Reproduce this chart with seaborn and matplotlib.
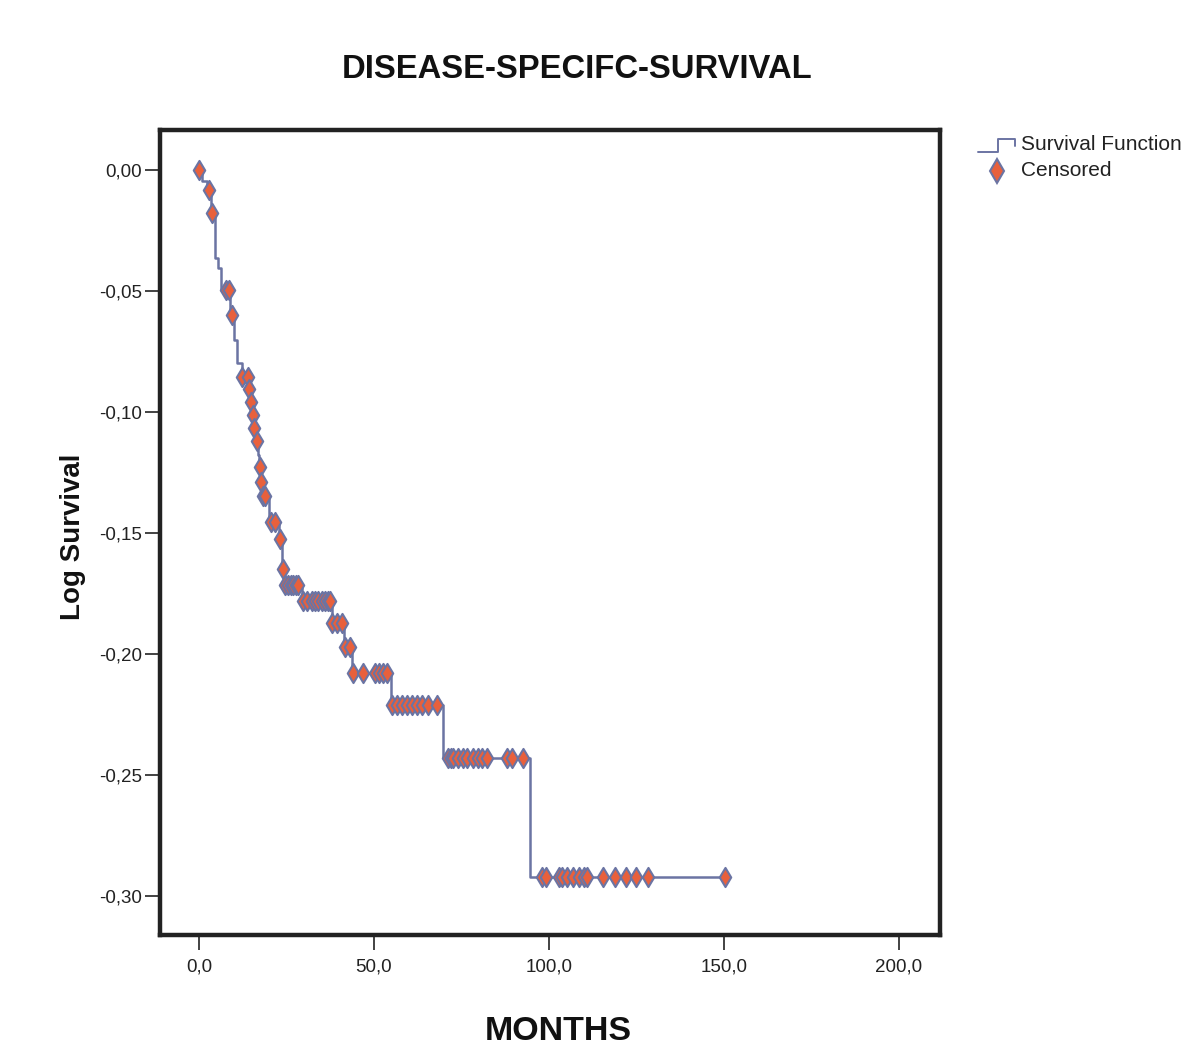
import numpy as np
import pandas as pd
import matplotlib
matplotlib.use("Agg")
import matplotlib.pyplot as plt
from matplotlib.lines import Line2D
import seaborn as sns

# ---- data ----
event_times = [0.0, 0.9, 2.3, 3.4, 3.5, 4.6, 5.4, 6.3, 9.0, 10.0, 10.9, 12.3, 14.1,
               14.6, 15.2, 15.6, 16.2, 16.9, 17.2, 17.5, 18.1, 20.0, 22.8, 23.7,
               24.3, 29.6, 38.0, 41.6, 43.7, 54.9, 69.7, 94.6, 150.3]
log_surv = [0.0, -0.0045, -0.0083, -0.0124, -0.0178, -0.0364, -0.0405, -0.0496,
            -0.0600, -0.0702, -0.0798, -0.0855, -0.0905, -0.0959, -0.1012, -0.1066,
            -0.1120, -0.1178, -0.1227, -0.1289, -0.1347, -0.1455, -0.1525, -0.1649,
            -0.1715, -0.1781, -0.1872, -0.1971, -0.2079, -0.2211, -0.2430, -0.2921,
            -0.2921]
censored_times = [0.0, 2.9, 3.7, 7.7, 8.6, 9.4, 12.3, 14.0, 14.3, 14.9, 15.4, 15.7,
                  16.6, 17.4, 17.7, 18.3, 18.9, 20.6, 21.7, 23.1, 24.0, 24.6, 25.4,
                  26.3, 26.9, 27.7, 28.3, 29.7, 30.9, 32.3, 33.2, 34.0, 35.1, 36.0,
                  36.9, 37.4, 38.0, 39.4, 40.9, 41.7, 43.1, 44.0, 46.9, 50.3, 51.4,
                  52.6, 53.7, 55.1, 56.6, 58.0, 59.4, 60.9, 62.3, 63.7, 65.4, 68.0,
                  71.1, 72.0, 72.6, 74.0, 75.4, 76.6, 78.3, 79.7, 80.9, 82.3, 88.0,
                  89.4, 92.6, 98.0, 99.1, 102.9, 103.7, 105.1, 106.9, 108.6, 110.0,
                  110.9, 115.4, 118.9, 122.0, 124.9, 128.3, 150.3]
x_ticks = [0, 50, 100, 150, 200]
x_tick_labels = ["0,0", "50,0", "100,0", "150,0", "200,0"]
y_ticks = [0.0, -0.05, -0.10, -0.15, -0.20, -0.25, -0.30]
y_tick_labels = ["0,00", "-0,05", "-0,10", "-0,15", "-0,20", "-0,25", "-0,30"]

curve = pd.DataFrame({"MONTHS": event_times, "Log Survival": log_surv})
idx = np.searchsorted(np.array(event_times), np.array(censored_times), side="right") - 1
cens = pd.DataFrame({"MONTHS": censored_times,
                     "Log Survival": np.array(log_surv)[idx]})

# ---- style ----
sns.set_style("white")
plt.rcParams["font.family"] = ["Liberation Sans", "DejaVu Sans"]

LINE = "#6b74a3"
FILL = "#e8603c"

fig = plt.figure(figsize=(11.84, 10.46), dpi=100)
ax = fig.add_axes([0.1351, 0.1061, 0.6588, 0.7696])

sns.lineplot(data=curve, x="MONTHS", y="Log Survival", ax=ax, color=LINE,
             drawstyle="steps-post", estimator=None, sort=False, linewidth=1.8,
             zorder=2)
sns.scatterplot(data=cens, x="MONTHS", y="Log Survival", ax=ax, marker="d",
                s=95, color=FILL, edgecolor=LINE, linewidth=1.5, zorder=3)

ax.set_xlim(-11.1, 211.7)
ax.set_ylim(-0.3161, 0.0165)
ax.set_xticks(x_ticks)
ax.set_xticklabels(x_tick_labels)
ax.set_yticks(y_ticks)
ax.set_yticklabels(y_tick_labels)
ax.tick_params(axis="both", direction="out", length=11, width=1.2, color="#222222",
               labelsize=13.5, labelcolor="#222222", bottom=True, left=True)
ax.tick_params(axis="x", pad=6)
ax.tick_params(axis="y", pad=2)
for sp in ax.spines.values():
    sp.set_visible(True)
    sp.set_linewidth(3.2)
    sp.set_color("#222222")
ax.set_xlabel("")
ax.set_ylabel("")

fig.text(577 / 1184, 1 - 70 / 1046, "DISEASE-SPECIFC-SURVIVAL", ha="center",
         va="center", fontsize=23.6, fontweight="bold", color="#111111")
fig.text(558 / 1184, 1 - 1032 / 1046, "MONTHS", ha="center", va="center",
         fontsize=24.5, fontweight="bold", color="#111111")
fig.text(73 / 1184, 1 - 537 / 1046, "Log Survival", ha="center", va="center",
         rotation=90, fontsize=20, fontweight="bold", color="#111111")

# legend (manual, SPSS-like)
W, H = 1184, 1046
def fx(px):
    return px / W
def fy(py):
    return 1 - py / H
step_x = [978, 998, 998, 1015, 1015]
step_y = [152, 152, 139, 139, 146]
fig.add_artist(Line2D([fx(v) for v in step_x], [fy(v) for v in step_y],
                      color=LINE, linewidth=1.4, transform=fig.transFigure))
fig.add_artist(Line2D([fx(997)], [fy(171)], marker="d", markersize=12,
                      markerfacecolor=FILL, markeredgecolor=LINE,
                      markeredgewidth=1.5, linestyle="none",
                      transform=fig.transFigure))
fig.text(fx(1021), fy(145), "Survival Function", ha="left", va="center",
         fontsize=15, color="#222222")
fig.text(fx(1021), fy(171), "Censored", ha="left", va="center",
         fontsize=15, color="#222222")

fig.savefig("out.png", dpi=100)
